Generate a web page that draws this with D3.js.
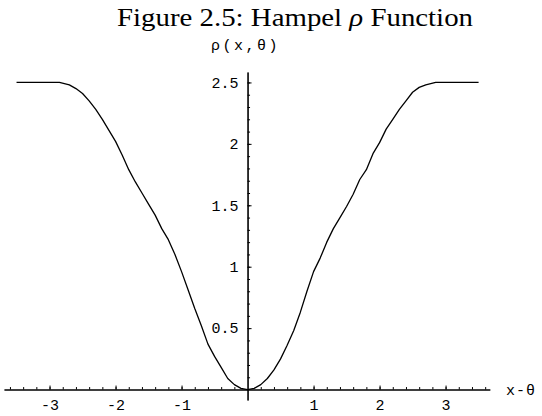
<!DOCTYPE html>
<html>
<head>
<meta charset="utf-8">
<script src="https://cdn.jsdelivr.net/npm/d3@7/dist/d3.min.js"></script>
<style>
  html, body { margin: 0; padding: 0; background: #fff; }
  svg { display: block; }
  .tick-label { font-family: "Liberation Mono", "DejaVu Sans Mono", monospace; font-size: 15px; fill: #000; }
</style>
</head>
<body>
<svg id="chart" width="542" height="416"></svg>
<script>
// Hampel rho curve, sampled along x - theta
const xValues = [
  -3.5, -2.85, -2.7, -2.6, -2.5, -2.4, -2.3, -2.2, -2.1, -2.0,
  -1.9, -1.8, -1.7, -1.6, -1.5, -1.4, -1.3, -1.2, -1.1, -1.0,
  -0.9, -0.8, -0.7, -0.6, -0.5, -0.4, -0.3, -0.2, -0.1, 0.0,
  0.1, 0.2, 0.3, 0.4, 0.5, 0.6, 0.7, 0.8, 0.9, 1.0,
  1.1, 1.2, 1.3, 1.4, 1.5, 1.6, 1.7, 1.8, 1.9, 2.0,
  2.1, 2.2, 2.3, 2.4, 2.5, 2.6, 2.7, 2.85, 3.5
];
const rhoValues = [
  2.50, 2.50, 2.48, 2.45, 2.41, 2.35, 2.28, 2.20, 2.11, 2.02,
  1.91, 1.79, 1.69, 1.60, 1.51, 1.42, 1.31, 1.22, 1.10, 0.96,
  0.81, 0.66, 0.52, 0.37, 0.27, 0.18, 0.09, 0.04, 0.01, 0.00,
  0.01, 0.04, 0.09, 0.16, 0.25, 0.36, 0.48, 0.63, 0.80, 0.96,
  1.07, 1.20, 1.31, 1.40, 1.49, 1.59, 1.71, 1.79, 1.92, 2.01,
  2.12, 2.20, 2.28, 2.35, 2.42, 2.46, 2.48, 2.50, 2.50
];

// Axis ticks
const xMajorTicks = [-3, -2, -1, 1, 2, 3];
const xTickLabels = ["-3", "-2", "-1", "1", "2", "3"];
const xMinorTicks = [-3.6, -3.4, -3.2, -3.0, -2.8, -2.6, -2.4, -2.2, -2.0, -1.8, -1.6, -1.4, -1.2, -1.0, -0.8, -0.6, -0.4, -0.2,
                     0.2, 0.4, 0.6, 0.8, 1.0, 1.2, 1.4, 1.6, 1.8, 2.0, 2.2, 2.4, 2.6, 2.8, 3.0, 3.2, 3.4, 3.6];
const yMajorTicks = [0.5, 1, 1.5, 2, 2.5];
const yTickLabels = ["0.5", "1", "1.5", "2", "2.5"];
const yMinorTicks = [0.1, 0.2, 0.3, 0.4, 0.5, 0.6, 0.7, 0.8, 0.9, 1.0, 1.1, 1.2, 1.3, 1.4, 1.5,
                     1.6, 1.7, 1.8, 1.9, 2.0, 2.1, 2.2, 2.3, 2.4, 2.5];

const xDomain = [-3.69, 3.67];
const yDomain = [-0.085, 2.585];

const svg = d3.select("#chart");

const x = d3.scaleLinear().domain(xDomain).range([4, 489.8]);
const y = d3.scaleLinear().domain(yDomain).range([400, 72]);

// Title
const title = svg.append("text")
  .attr("x", 295)
  .attr("y", 26)
  .attr("text-anchor", "middle")
  .attr("textLength", 356)
  .attr("lengthAdjust", "spacingAndGlyphs")
  .style("font-family", "'Liberation Serif', 'DejaVu Serif', serif")
  .style("font-size", "26px")
  .attr("fill", "#000");
title.append("tspan").text("Figure 2.5: Hampel ");
title.append("tspan").style("font-style", "italic").text("ρ");
title.append("tspan").text(" Function");

// x axis: minor ticks, then labelled major ticks
const gx = svg.append("g").attr("transform", `translate(0,${y(0)})`);
gx.append("g")
  .call(d3.axisBottom(x).tickValues(xMinorTicks).tickSizeInner(-2.5).tickSizeOuter(0).tickFormat(""));
gx.append("g")
  .call(d3.axisBottom(x).tickValues(xMajorTicks).tickSizeInner(-4).tickSizeOuter(0)
    .tickPadding(10).tickFormat((d, i) => xTickLabels[i]));

// y axis
const gy = svg.append("g").attr("transform", `translate(${x(0)},0)`);
gy.append("g")
  .call(d3.axisLeft(y).tickValues(yMinorTicks).tickSizeInner(-2.5).tickSizeOuter(0).tickFormat(""));
gy.append("g")
  .call(d3.axisLeft(y).tickValues(yMajorTicks).tickSizeInner(-4).tickSizeOuter(0)
    .tickPadding(9).tickFormat((d, i) => yTickLabels[i]));

svg.selectAll(".domain").attr("stroke", "#000").attr("stroke-width", 1.1);
svg.selectAll(".tick line").attr("stroke", "#000").attr("stroke-width", 1);
svg.selectAll(".tick text")
  .attr("class", "tick-label")
  .attr("font-family", null)
  .attr("font-size", null);

// Axis names
svg.append("text")
  .attr("class", "tick-label")
  .attr("x", x(0) - 2)
  .attr("y", 50)
  .attr("text-anchor", "middle")
  .style("letter-spacing", "2.5px")
  .text("ρ(x,θ)");
svg.append("text")
  .attr("class", "tick-label")
  .attr("x", 506)
  .attr("y", y(0) + 5)
  .style("letter-spacing", "1px")
  .text("x-θ");

// Curve
const points = xValues.map((v, i) => [v, rhoValues[i]]);
svg.append("path")
  .datum(points)
  .attr("fill", "none")
  .attr("stroke", "#000")
  .attr("stroke-width", 1.3)
  .attr("stroke-linejoin", "round")
  .attr("d", d3.line().x(d => x(d[0])).y(d => y(d[1])));
</script>
</body>
</html>
